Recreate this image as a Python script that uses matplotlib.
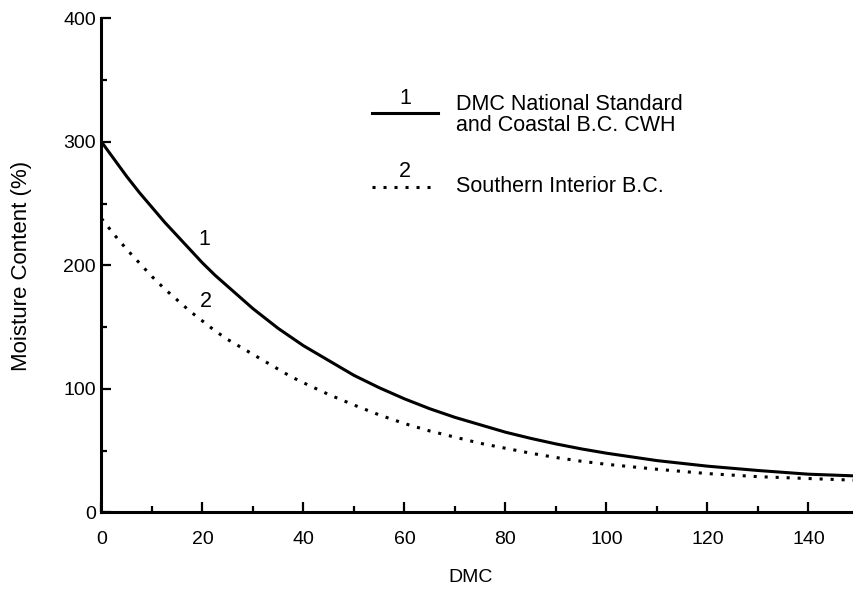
import matplotlib
matplotlib.use('Agg')
import matplotlib.pyplot as plt
from matplotlib.ticker import MultipleLocator

plt.rcParams['font.family'] = ['Liberation Sans', 'DejaVu Sans']

# values
dmc = [0, 2.5, 5, 7.5, 10, 12.5, 15, 17.5, 20, 22.5, 25, 27.5, 30, 32.5, 35, 37.5,
       40, 45, 50, 55, 60, 65, 70, 75, 80, 85, 90, 95, 100, 110, 120, 130, 140, 150]
mc_national = [300, 286, 272, 259, 247, 235, 224, 213, 202, 192, 183, 174, 165, 157, 149, 142,
               135, 123, 111, 101, 92, 84, 77, 71, 65, 60, 55.5, 51.5, 48, 42, 37.5, 34, 31, 29.5]
mc_interior = [238, 225, 213, 202, 191, 181, 172, 163, 155, 147, 140, 134, 128, 122, 116, 110,
               105, 95.5, 87, 79, 72, 66, 61, 56, 52, 48, 44.5, 41.5, 39, 35, 31.5, 29, 27.5, 26]

legend_line1 = 'DMC National Standard'
legend_line2 = 'and Coastal B.C. CWH'
legend_text_2 = 'Southern Interior B.C.'

fig = plt.figure(figsize=(8.54, 5.92), dpi=100)
ax = fig.add_axes([0.1188, 0.1343, 0.887, 0.8348])

lw = 2.2
dots = (0, (1, 2.6))
ax.plot(dmc, mc_national, color='black', lw=lw)
ax.plot(dmc, mc_interior, color='black', lw=lw, linestyle=dots)

fs = 15.5
# curve numbers
ax.text(20.3, 220.6, '1', fontsize=fs, ha='center', va='center')
ax.text(20.7, 171, '2', fontsize=fs, ha='center', va='center')

# hand-made legend
ax.plot([53.5, 66.6], [323.6, 323.6], color='black', lw=lw, clip_on=False)
ax.plot([53.5, 66.6], [263.7, 263.7], color='black', lw=lw, linestyle=dots, clip_on=False)
ax.text(60.1, 335.1, '1', fontsize=fs, ha='center', va='center')
ax.text(60.1, 276.4, '2', fontsize=fs, ha='center', va='center')
ax.text(70.2, 330.6, legend_line1, fontsize=fs, ha='left', va='center')
ax.text(70.2, 313.6, legend_line2, fontsize=fs, ha='left', va='center')
ax.text(70.2, 263.7, legend_text_2, fontsize=fs, ha='left', va='center')

ax.set_xlim(0, 150)
ax.set_ylim(0, 400)
ax.spines['top'].set_visible(False)
ax.spines['right'].set_visible(False)
for s in ['left', 'bottom']:
    ax.spines[s].set_linewidth(2.2)

ax.xaxis.set_major_locator(MultipleLocator(20))
ax.xaxis.set_minor_locator(MultipleLocator(10))
ax.yaxis.set_major_locator(MultipleLocator(100))
ax.yaxis.set_minor_locator(MultipleLocator(50))
ax.tick_params(which='major', direction='in', length=7, width=1.6, labelsize=14)
ax.tick_params(which='minor', direction='in', length=4, width=1.6)
ax.tick_params(axis='x', which='major', pad=13)
ax.tick_params(axis='y', which='major', pad=4)

fig.text(22 / 854, 1 - 266 / 592, 'Moisture Content (%)', fontsize=16,
         rotation=90, ha='center', va='center')
fig.text(471 / 854, 1 - 578 / 592, 'DMC', fontsize=14, ha='center', va='center')

fig.savefig('out.png', dpi=100)
